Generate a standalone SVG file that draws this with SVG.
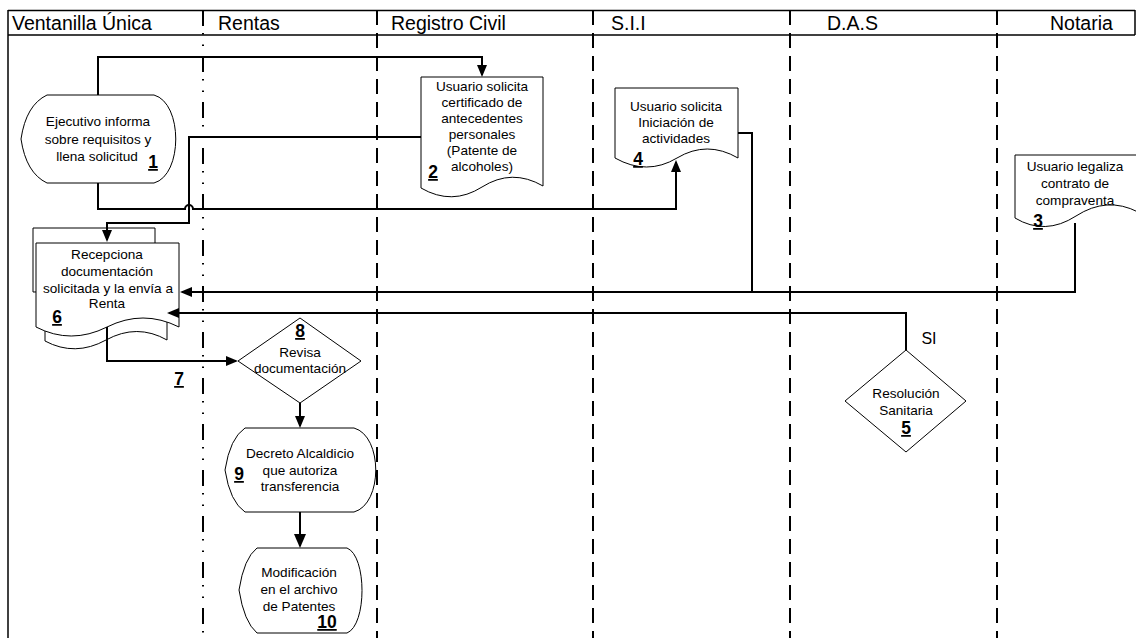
<svg xmlns="http://www.w3.org/2000/svg" width="1136" height="638" viewBox="0 0 1136 638">
<style>
text{font-family:"Liberation Sans",Arial,sans-serif;fill:#000}
.hdr{font-size:19.5px}
.lbl{font-size:13.6px;text-anchor:middle}
.num{font-size:17.5px;font-weight:bold;text-decoration:underline;text-anchor:middle}
.shape{fill:#fff;stroke:#000;stroke-width:1}
.lane{fill:none;stroke:#000;stroke-width:2;stroke-dasharray:15 8}
.lane2{fill:none;stroke:#000;stroke-width:2;stroke-dasharray:16 7 1.5 10 1.5 10}
.con{fill:none;stroke:#000;stroke-width:2}
</style>
<defs>
<marker id="ah" markerUnits="userSpaceOnUse" markerWidth="12" markerHeight="10" refX="10" refY="5" orient="auto">
<path d="M0,0 L12,5 L0,10 Z" fill="#000"/>
</marker>
<marker id="ahb" markerUnits="userSpaceOnUse" markerWidth="14" markerHeight="12" refX="12" refY="6" orient="auto">
<path d="M0,0 L14,6 L0,12 Z" fill="#000"/>
</marker>
</defs>
<rect width="1136" height="638" fill="#fff"/>
<g id="frame">
<line x1="8" y1="10.5" x2="1135" y2="10.5" stroke="#000" stroke-width="1.5"/>
<line x1="8" y1="35" x2="1135" y2="35" stroke="#000" stroke-width="1.5"/>
<line x1="8" y1="10" x2="8" y2="638" stroke="#000" stroke-width="1.5"/>
<line x1="1135" y1="10" x2="1135" y2="35" stroke="#000" stroke-width="1.5"/>
<line class="lane2" x1="203" y1="10" x2="203" y2="638"/>
<line class="lane" x1="377" y1="10" x2="377" y2="638"/>
<line class="lane" x1="593" y1="10" x2="593" y2="638"/>
<line class="lane" x1="790" y1="10" x2="790" y2="638"/>
<line class="lane" x1="997" y1="10" x2="997" y2="638"/>
<text class="hdr" x="12" y="30">Ventanilla Única</text>
<text class="hdr" x="218" y="30">Rentas</text>
<text class="hdr" x="391" y="30">Registro Civil</text>
<text class="hdr" x="611" y="30">S.I.I</text>
<text class="hdr" x="827" y="30">D.A.S</text>
<text class="hdr" x="1050" y="30">Notaria</text>
</g>
<g id="n1">
<path class="shape" d="M47,95 H154 C183,103 183,175 154,183 H47 Q26,173 21,139 Q26,105 47,95 Z"/>
<text class="lbl" x="98" y="126">Ejecutivo informa</text>
<text class="lbl" x="98" y="143.5">sobre requisitos y</text>
<text class="lbl" x="97" y="160.5">llena solicitud</text>
<text class="num" x="153" y="168">1</text>
</g>
<g id="n2">
<path class="shape" d="M421,77 H543 V186 Q512,168 482,187 T421,188 Z"/>
<text class="lbl" x="482" y="91">Usuario solicita</text>
<text class="lbl" x="482" y="107">certificado de</text>
<text class="lbl" x="482" y="123">antecedentes</text>
<text class="lbl" x="482" y="139">personales</text>
<text class="lbl" x="482" y="155">(Patente de</text>
<text class="lbl" x="482" y="171">alcoholes)</text>
<text class="num" x="433" y="178">2</text>
</g>
<g id="n4">
<path class="shape" d="M615,88 H738 V158 Q707,140 677,158 T615,158 Z"/>
<text class="lbl" x="676" y="110.5">Usuario solicita</text>
<text class="lbl" x="676" y="126.5">Iniciación de</text>
<text class="lbl" x="676" y="142.5">actividades</text>
<text class="num" x="638" y="165">4</text>
</g>
<g id="n3">
<path class="shape" d="M1015,155 H1138 V212 Q1107,196 1076,216 T1015,218 Z"/>
<text class="lbl" x="1075" y="171">Usuario legaliza</text>
<text class="lbl" x="1075" y="187.5">contrato de</text>
<text class="lbl" x="1075" y="204.5">compraventa</text>
<text class="num" x="1038" y="227">3</text>
</g>
<g id="n6">
<path class="shape" d="M33,292 V228 H155 V290 Z"/>
<path class="shape" d="M45,300 H167 V340 Q137,323 106,340 T45,341 Z"/>
<path class="shape" d="M36,243 H179 V327 Q143,309 107,327 T36,327 Z"/>
<text class="lbl" x="107" y="258.5">Recepciona</text>
<text class="lbl" x="107" y="276">documentación</text>
<text class="lbl" x="108" y="292.5">solicitada y la envía a</text>
<text class="lbl" x="107" y="308">Renta</text>
<text class="num" x="57" y="323">6</text>
</g>
<g id="n7">
<text class="num" x="179" y="385">7</text>
</g>
<g id="n8">
<path class="shape" d="M238,361 L300,318 L361,361 L300,403 Z"/>
<text class="num" x="300" y="337">8</text>
<text class="lbl" x="300" y="357">Revisa</text>
<text class="lbl" x="300" y="373">documentación</text>
</g>
<g id="n5">
<path class="shape" d="M906,350 L966,401 L906,452 L845,401 Z"/>
<text class="lbl" x="906" y="398">Resolución</text>
<text class="lbl" x="906" y="414.5">Sanitaria</text>
<text class="num" x="906" y="434">5</text>
<text x="929" y="344" style="font-size:16px;text-anchor:middle">SI</text>
</g>
<g id="n9">
<path class="shape" d="M245,428 H354 C383,436 383,504 354,512 H245 Q230,502 225,470 Q230,438 245,428 Z"/>
<text class="lbl" x="300" y="458">Decreto Alcaldicio</text>
<text class="lbl" x="300" y="474.5">que autoriza</text>
<text class="lbl" x="300" y="491">transferencia</text>
<text class="num" x="239" y="480">9</text>
</g>
<g id="n10">
<path class="shape" d="M257,548 H347 C367,556 367,625 347,633 H257 Q244,622 239,590 Q244,558 257,548 Z"/>
<text class="lbl" x="299" y="577">Modificación</text>
<text class="lbl" x="299" y="594">en el archivo</text>
<text class="lbl" x="299" y="611">de Patentes</text>
<text class="num" x="327" y="628">10</text>
</g>
<g id="connectors">
<path class="con" d="M98,95 V57 H482 V75" marker-end="url(#ah)"/>
<path class="con" d="M98,183 V209 H185 A4,4 0 0 1 193,209 H676 V162" marker-end="url(#ah)"/>
<path class="con" d="M421,137 H189 V223 H107 V240" marker-end="url(#ah)"/>
<path class="con" d="M738,133 H752 V292 H182" marker-end="url(#ah)"/>
<path class="con" d="M1075,223 V292 H752" stroke-width="1.5"/>
<path class="con" d="M906,350 V313 H169" marker-end="url(#ah)"/>
<path class="con" d="M107,327 V361 H236" marker-end="url(#ah)"/>
<path class="con" d="M300,403 V426" stroke="#777" stroke-width="1.5" marker-end="url(#ah)"/>
<path class="con" d="M300,512 V546" stroke-width="3" marker-end="url(#ahb)"/>
</g>
</svg>
